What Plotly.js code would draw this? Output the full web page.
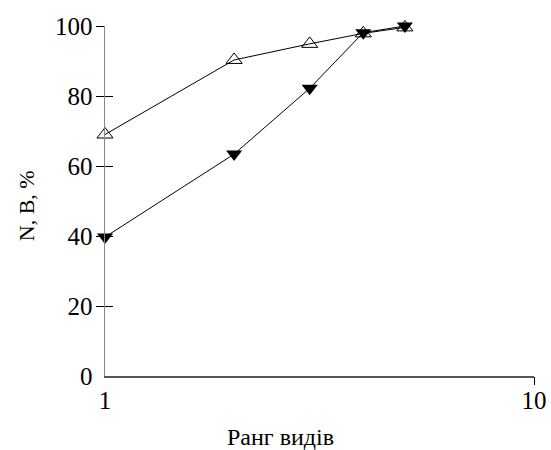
<!DOCTYPE html>
<html>
<head>
<meta charset="utf-8">
<script src="https://cdn.plot.ly/plotly-3.0.1.min.js"></script>
<style>html,body{margin:0;padding:0;background:#fff;}#chart{width:551px;height:450px;}</style>
</head>
<body>
<div id="chart"></div>
<script>
const rank = [1, 2, 3, 4, 5];
const seriesN = [69, 90.3, 94.9, 97.9, 99.6];
const seriesB = [39.7, 63.4, 82.2, 98.1, 100];
const yTicks = [20, 40, 60, 80, 100];
const yTickLabels = [0, 20, 40, 60, 80, 100];
const xTickLabels = [1, 10];
const xTicks = [10];
const xTitle = 'Ранг видів';
const yTitle = 'N, B, %';

const font = 'Liberation Serif';

const traces = [
  {x: rank, y: seriesN, mode: 'lines+markers', type: 'scatter',
   line: {color: '#000', width: 1},
   marker: {symbol: 'triangle-up-open', size: 14, color: '#000', line: {width: 1, color: '#000'}},
   showlegend: false, cliponaxis: false},
  {x: rank, y: seriesB, mode: 'lines+markers', type: 'scatter',
   line: {color: '#000', width: 1},
   marker: {symbol: 'triangle-down', size: 14, color: '#000', line: {width: 0}},
   showlegend: false, cliponaxis: false}
];

const tickAx = (base, pos) => Object.assign({
  ticklen: 8, tickwidth: 1, tickcolor: '#000',
  showticklabels: false, showline: false, showgrid: false, zeroline: false
}, base, pos);

const layout = {
  width: 551, height: 450,
  margin: {l: 105, r: 17, t: 26, b: 74},
  paper_bgcolor: '#fff', plot_bgcolor: '#fff',
  font: {family: font, color: '#000', size: 25},
  xaxis: {type: 'log', range: [0, 1], tickvals: xTickLabels, ticktext: xTickLabels.map(String),
    ticks: '', ticklabelstandoff: 1,
    showline: true, linecolor: '#555', linewidth: 1.5, showgrid: false, zeroline: false,
    tickfont: {family: font, size: 25, color: '#000'}},
  xaxis2: tickAx({type: 'log', range: [0, 1], overlaying: 'x', anchor: 'y', side: 'bottom', tickvals: xTicks}, {ticks: 'outside'}),
  xaxis3: tickAx({type: 'log', range: [0, 1], overlaying: 'x', anchor: 'y', side: 'bottom', tickvals: xTicks}, {ticks: 'inside'}),
  yaxis: {range: [0, 100], tickvals: yTickLabels, ticktext: yTickLabels.map(String),
    ticks: '', ticklabelstandoff: 6,
    showline: true, linecolor: '#888', linewidth: 1.5, showgrid: false, zeroline: false,
    tickfont: {family: font, size: 25, color: '#000'}},
  yaxis2: tickAx({range: [0, 100], overlaying: 'y', anchor: 'x', side: 'left', tickvals: yTicks}, {ticks: 'outside'}),
  yaxis3: tickAx({range: [0, 100], overlaying: 'y', anchor: 'x', side: 'left', tickvals: yTicks}, {ticks: 'inside'}),
  annotations: [
    {text: xTitle, xref: 'paper', yref: 'paper', x: 0.41, y: 0, yshift: -61,
     xanchor: 'center', yanchor: 'middle', showarrow: false,
     font: {family: font, size: 24, color: '#000'}},
    {text: yTitle, xref: 'paper', yref: 'paper', x: 0, xshift: -79, y: 0.485,
     xanchor: 'center', yanchor: 'middle', textangle: -90, showarrow: false,
     font: {family: font, size: 22, color: '#000'}}
  ]
};

const dummy = (xa, ya) => ({x: [1], y: [0], xaxis: xa, yaxis: ya, mode: 'markers',
  marker: {opacity: 0}, showlegend: false, hoverinfo: 'skip'});

Plotly.newPlot('chart', [dummy('x2', 'y2'), dummy('x3', 'y3'), ...traces], layout, {staticPlot: true});
</script>
</body>
</html>
